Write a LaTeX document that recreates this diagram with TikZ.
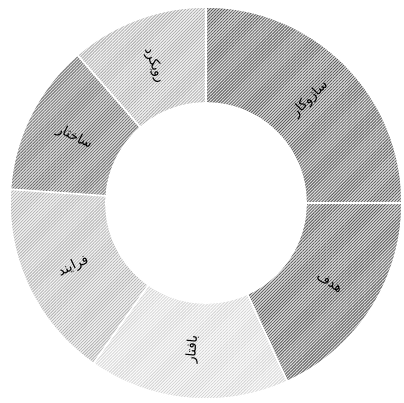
\documentclass[tikz,border=0pt]{standalone}
\usepackage{fontspec}
\newfontfamily\arabicfont[Script=Arabic]{DejaVu Sans}
\TeXXeTstate=1
\usetikzlibrary{patterns.meta}
\definecolor{bgdark}{HTML}{DEDEDE}
\definecolor{lndark}{HTML}{5A5A5A}
\definecolor{bgmid}{HTML}{F4F4F4}
\definecolor{lnmid}{HTML}{ABABAB}
\definecolor{lnmid2}{HTML}{6E6E6E}
\definecolor{lnlight}{HTML}{B2B2B2}
\definecolor{bglight}{HTML}{FCFCFC}
\definecolor{lnlightest}{HTML}{D2D2D2}
\begin{document}
\begin{tikzpicture}[x=0.75pt,y=0.75pt,
  seg/.style n args={2}{preaction={fill=#1},pattern={Lines[angle=45,distance=1.6pt,line width=0.6pt]},pattern color=#2,draw=white,line width=1.2pt},
  lbl/.style={font=\arabicfont\fontsize{10}{12}\selectfont,inner sep=1pt}]
\useasboundingbox (-206,-200) rectangle (197,203);
\def\Ro{196}\def\Ri{100}
\newcommand\donutseg[4]{%
  \path[seg={#3}{#4}] (#1:\Ro) arc[start angle=#1,end angle=#2,radius=\Ro] -- (#2:\Ri) arc[start angle=#2,end angle=#1,radius=\Ri] -- cycle;}
\donutseg{0}{90}{bgdark}{lndark}
\donutseg{90}{131}{bgmid}{lnmid}
\donutseg{131}{176}{bgdark}{lnmid2}
\donutseg{176}{235}{bgmid}{lnlight}
\donutseg{235}{294.5}{bglight}{lnlightest}
\donutseg{294.5}{360}{bgdark}{lndark}
\node[lbl,rotate=45] (sazokar) at (45:147) {\beginR سازوکار\endR};
\node[lbl,rotate=-69.5] (rouykard) at (110.5:147) {\beginR رویکرد\endR};
\node[lbl,rotate=-26.5] (sakhtar) at (153.5:147) {\beginR ساختار\endR};
\node[lbl,rotate=25.5] (farayand) at (205.5:147) {\beginR فرایند\endR};
\node[lbl,rotate=84.75] (baftar) at (264.75:147) {\beginR بافتار\endR};
\node[lbl,rotate=-32.75] (hadaf) at (327.25:147) {\beginR هدف\endR};
\end{tikzpicture}
\end{document}
